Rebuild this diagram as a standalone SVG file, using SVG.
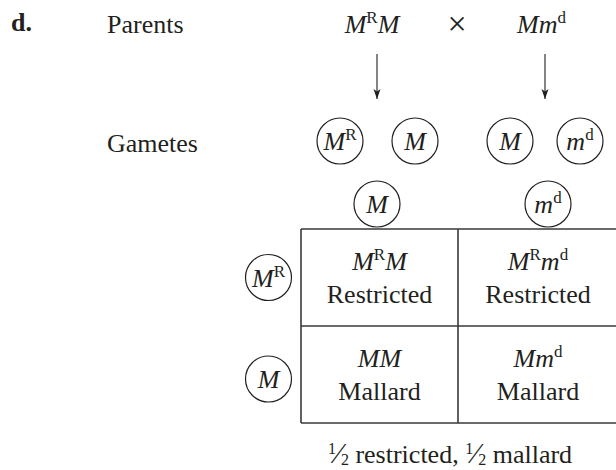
<svg xmlns="http://www.w3.org/2000/svg" width="616" height="470" viewBox="0 0 616 470">
<style>
text{font-family:'Liberation Serif','Times New Roman',Times,serif;font-size:26px;fill:#231f20}
.i{font-style:italic}
.c{text-anchor:middle}
.sup{font-size:17px;font-style:normal}
.circ{fill:none;stroke:#231f20;stroke-width:1.2}
.tbl{stroke:#3a3a3a;stroke-width:1.6;fill:none}
.arr{stroke:#231f20;stroke-width:1.1;fill:none}
</style>
<defs>
<marker id="ah" viewBox="0 0 12 10" refX="11" refY="5" markerWidth="12" markerHeight="10" markerUnits="userSpaceOnUse" orient="auto">
<path d="M1,1.5 L11,5 L1,8.5 L3.5,5 Z" fill="#231f20"/>
</marker>
</defs>
<rect width="616" height="470" fill="#fff"/>
<g font-family="Liberation Serif, Times New Roman, serif">
<g id="label-d"><text x="11" y="31" font-weight="bold">d.</text></g>
<g id="label-parents"><text x="107" y="33">Parents</text></g>
<g id="label-gametes"><text x="107" y="152">Gametes</text></g>
<g id="parent1"><text class="c i" x="372" y="33">M<tspan class="sup" dy="-10">R</tspan><tspan dy="10">M</tspan></text></g>
<g id="cross"><text class="c" x="457" y="35" style="font-size:34px">×</text></g>
<g id="parent2"><text class="i" x="517" y="33">Mm<tspan class="sup" dy="-10">d</tspan></text></g>
<g id="connectors">
<line class="arr" x1="377" y1="54" x2="377" y2="99" marker-end="url(#ah)"/>
<line class="arr" x1="545" y1="54" x2="545" y2="99" marker-end="url(#ah)"/>
</g>
<g id="gam-MR"><circle class="circ" cx="340" cy="141" r="23"/><text class="c i" x="340" y="150">M<tspan class="sup" dy="-10">R</tspan></text></g>
<g id="gam-M1"><circle class="circ" cx="415" cy="141" r="23"/><text class="c i" x="415" y="150">M</text></g>
<g id="gam-M2"><circle class="circ" cx="510" cy="141" r="23"/><text class="c i" x="510" y="150">M</text></g>
<g id="gam-md"><circle class="circ" cx="580" cy="141" r="23"/><text class="c i" x="580" y="150">m<tspan class="sup" dy="-10">d</tspan></text></g>
<g id="col-M"><circle class="circ" cx="377" cy="204" r="23"/><text class="c i" x="377" y="213">M</text></g>
<g id="col-md"><circle class="circ" cx="548" cy="204" r="23"/><text class="c i" x="548" y="213">m<tspan class="sup" dy="-10">d</tspan></text></g>
<g id="row-MR"><circle class="circ" cx="268.5" cy="277.5" r="23"/><text class="c i" x="268.5" y="286.5">M<tspan class="sup" dy="-10">R</tspan></text></g>
<g id="row-M"><circle class="circ" cx="268.5" cy="379" r="23"/><text class="c i" x="268.5" y="388">M</text></g>
<g id="table">
<path class="tbl" d="M301,229 H616 M301,326 H616 M301,423 H616 M301,229 V423 M458,229 V423"/>
</g>
<g id="cell-11"><text class="c i" x="379.5" y="270">M<tspan class="sup" dy="-10">R</tspan><tspan dy="10">M</tspan></text><text class="c" x="379.5" y="303">Restricted</text></g>
<g id="cell-12"><text class="c i" x="538" y="270">M<tspan class="sup" dy="-10">R</tspan><tspan dy="10">m</tspan><tspan class="sup" dy="-10">d</tspan></text><text class="c" x="538" y="303">Restricted</text></g>
<g id="cell-21"><text class="c i" x="379.5" y="367">MM</text><text class="c" x="379.5" y="400">Mallard</text></g>
<g id="cell-22"><text class="c i" x="538" y="367">Mm<tspan class="sup" dy="-10">d</tspan></text><text class="c" x="538" y="400">Mallard</text></g>
<g id="summary"><text class="c" x="450" y="463"><tspan font-size="16" dy="-9">1</tspan><tspan dy="9" font-size="30">⁄</tspan><tspan font-size="16" dy="2">2</tspan><tspan dy="-2"> restricted, </tspan><tspan font-size="16" dy="-9">1</tspan><tspan dy="9" font-size="30">⁄</tspan><tspan font-size="16" dy="2">2</tspan><tspan dy="-2"> mallard</tspan></text></g>
</g>
</svg>
